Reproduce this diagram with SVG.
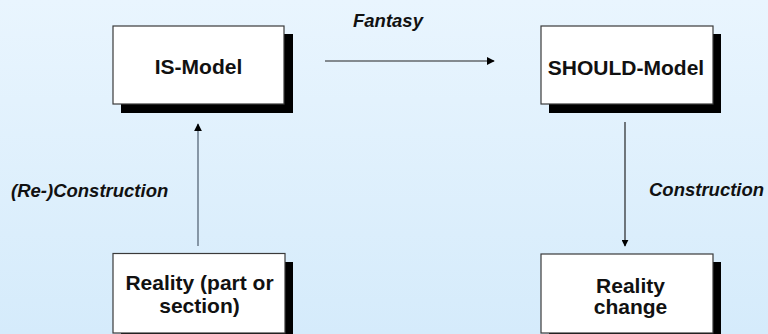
<svg xmlns="http://www.w3.org/2000/svg" width="768" height="334" viewBox="0 0 768 334">
<defs>
<linearGradient id="bg" x1="0" y1="0" x2="0" y2="1">
<stop offset="0" stop-color="#e9f5fe"/>
<stop offset="1" stop-color="#d5ebfb"/>
</linearGradient>
<marker id="ah" viewBox="0 0 10 10" refX="9" refY="5" markerWidth="8" markerHeight="8" markerUnits="userSpaceOnUse" orient="auto">
<path d="M0,0 L10,5 L0,10 Z" fill="#000"/>
</marker>
<marker id="ahs" viewBox="0 0 10 10" refX="9" refY="5" markerWidth="7" markerHeight="7" markerUnits="userSpaceOnUse" orient="auto">
<path d="M0,0 L10,5 L0,10 Z" fill="#000"/>
</marker>
</defs>
<style>
.shadow{fill:#000}
.box{fill:#fff;stroke:#3a3a3a;stroke-width:1.2}
.t{font-family:"Liberation Sans",Arial,sans-serif;font-weight:bold;font-size:21px;fill:#111;text-anchor:middle}
.lbl{font-family:"Liberation Sans",Arial,sans-serif;font-weight:bold;font-style:italic;font-size:18.5px;fill:#111}
</style>
<rect width="768" height="334" fill="url(#bg)"/>
<g id="connectors">
<line x1="325" y1="61" x2="494" y2="61" stroke="#222" stroke-width="1.2" marker-end="url(#ah)"/>
<line x1="198" y1="246" x2="198" y2="124" stroke="#708090" stroke-width="1.6" marker-end="url(#ah)"/>
<line x1="625" y1="122" x2="625" y2="246" stroke="#111" stroke-width="1.1" marker-end="url(#ahs)"/>
<text class="lbl" x="353" y="27">Fantasy</text>
<text class="lbl" x="11" y="197">(Re-)Construction</text>
<text class="lbl" x="649" y="196">Construction</text>
</g>
<g id="is-model">
<rect class="shadow" x="121" y="34" width="172" height="79"/>
<rect class="box" x="113" y="26" width="171" height="78"/>
<text class="t" x="198.5" y="73.5">IS-Model</text>
</g>
<g id="should-model">
<rect class="shadow" x="549" y="34" width="172" height="79"/>
<rect class="box" x="541" y="26" width="172" height="78"/>
<text class="t" x="626" y="75">SHOULD-Model</text>
</g>
<g id="reality">
<rect class="shadow" x="121" y="262" width="172" height="80"/>
<rect class="box" x="113" y="253.5" width="172" height="79.5"/>
<text class="t" x="199.5" y="290">Reality (part or</text>
<text class="t" x="199.5" y="313">section)</text>
</g>
<g id="reality-change">
<rect class="shadow" x="549" y="262" width="172" height="80"/>
<rect class="box" x="541" y="254" width="172" height="79"/>
<text class="t" x="630.5" y="292.5">Reality</text>
<text class="t" x="630.5" y="314">change</text>
</g>
</svg>
